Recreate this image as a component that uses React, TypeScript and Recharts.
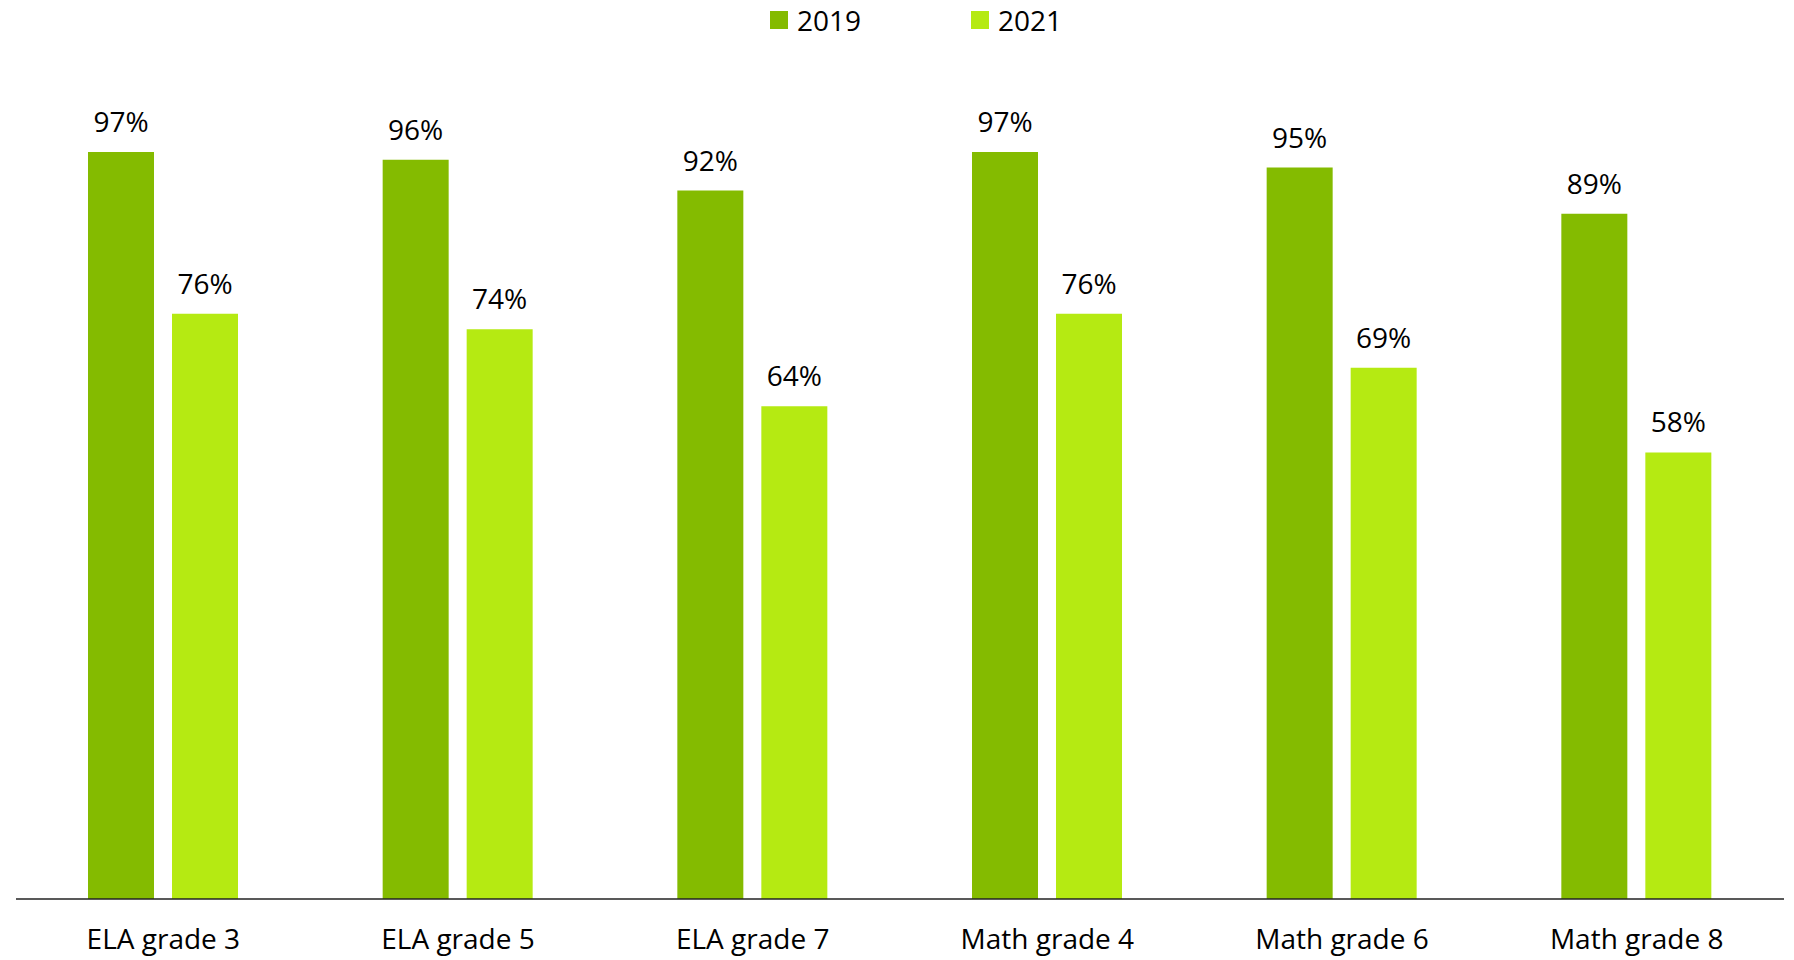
import React from 'react';
import { BarChart, Bar, XAxis, YAxis, Legend, LabelList } from 'recharts';

const categories = ['ELA grade 3', 'ELA grade 5', 'ELA grade 7', 'Math grade 4', 'Math grade 6', 'Math grade 8'];
const values2019 = [97, 96, 92, 97, 95, 89];
const values2021 = [76, 74, 64, 76, 69, 58];
const seriesNames = ['2019', '2021'];
const colors = ['#84BB00', '#B5EA12'];

const data = categories.map((c, i) => ({ name: c, y2019: values2019[i], y2021: values2021[i] }));

const FONT = "'Open Sans', 'Noto Sans', sans-serif";

const renderLegend = () => (
  <div style={{ height: 40, width: 1794, display: 'flex', justifyContent: 'center', paddingLeft: 38, boxSizing: 'border-box' }}>
    {seriesNames.map((n, i) => (
      <div key={n} style={{ display: 'flex', alignItems: 'center', marginLeft: i === 0 ? 0 : 110, height: 40 }}>
        <div style={{ width: 18, height: 18, background: colors[i], marginRight: 9 }} />
        <span style={{ fontFamily: FONT, fontSize: 28, color: '#000', lineHeight: '28px' }}>{n}</span>
      </div>
    ))}
  </div>
);

export default function App() {
  return (
    <div style={{ position: 'absolute', left: 0, top: 0, width: 1794, height: 960, background: '#fff' }}>
      <BarChart
        width={1794}
        height={960}
        data={data}
        margin={{ top: 89, right: 10, bottom: 31, left: 16 }}
        barGap={18}
      >
        <Legend verticalAlign="top" content={renderLegend} wrapperStyle={{ top: 0, left: 0 }} />
        <YAxis hide domain={[0, 100]} />
        <XAxis
          dataKey="name"
          height={30}
          interval={0}
          tickLine={false}
          tickSize={0}
          tickMargin={30}
          axisLine={{ stroke: '#222', strokeWidth: 1.5 }}
          tick={{ fontFamily: FONT, fontSize: 28, fill: '#000' }}
        />
        <Bar dataKey="y2019" fill={colors[0]} barSize={66} isAnimationActive={false}>
          <LabelList dataKey="y2019" position="top" offset={20} formatter={(v: any) => `${v}%`} style={{ fontFamily: FONT, fontSize: 28, fill: '#000' }} />
        </Bar>
        <Bar dataKey="y2021" fill={colors[1]} barSize={66} isAnimationActive={false}>
          <LabelList dataKey="y2021" position="top" offset={20} formatter={(v: any) => `${v}%`} style={{ fontFamily: FONT, fontSize: 28, fill: '#000' }} />
        </Bar>
      </BarChart>
    </div>
  );
}
